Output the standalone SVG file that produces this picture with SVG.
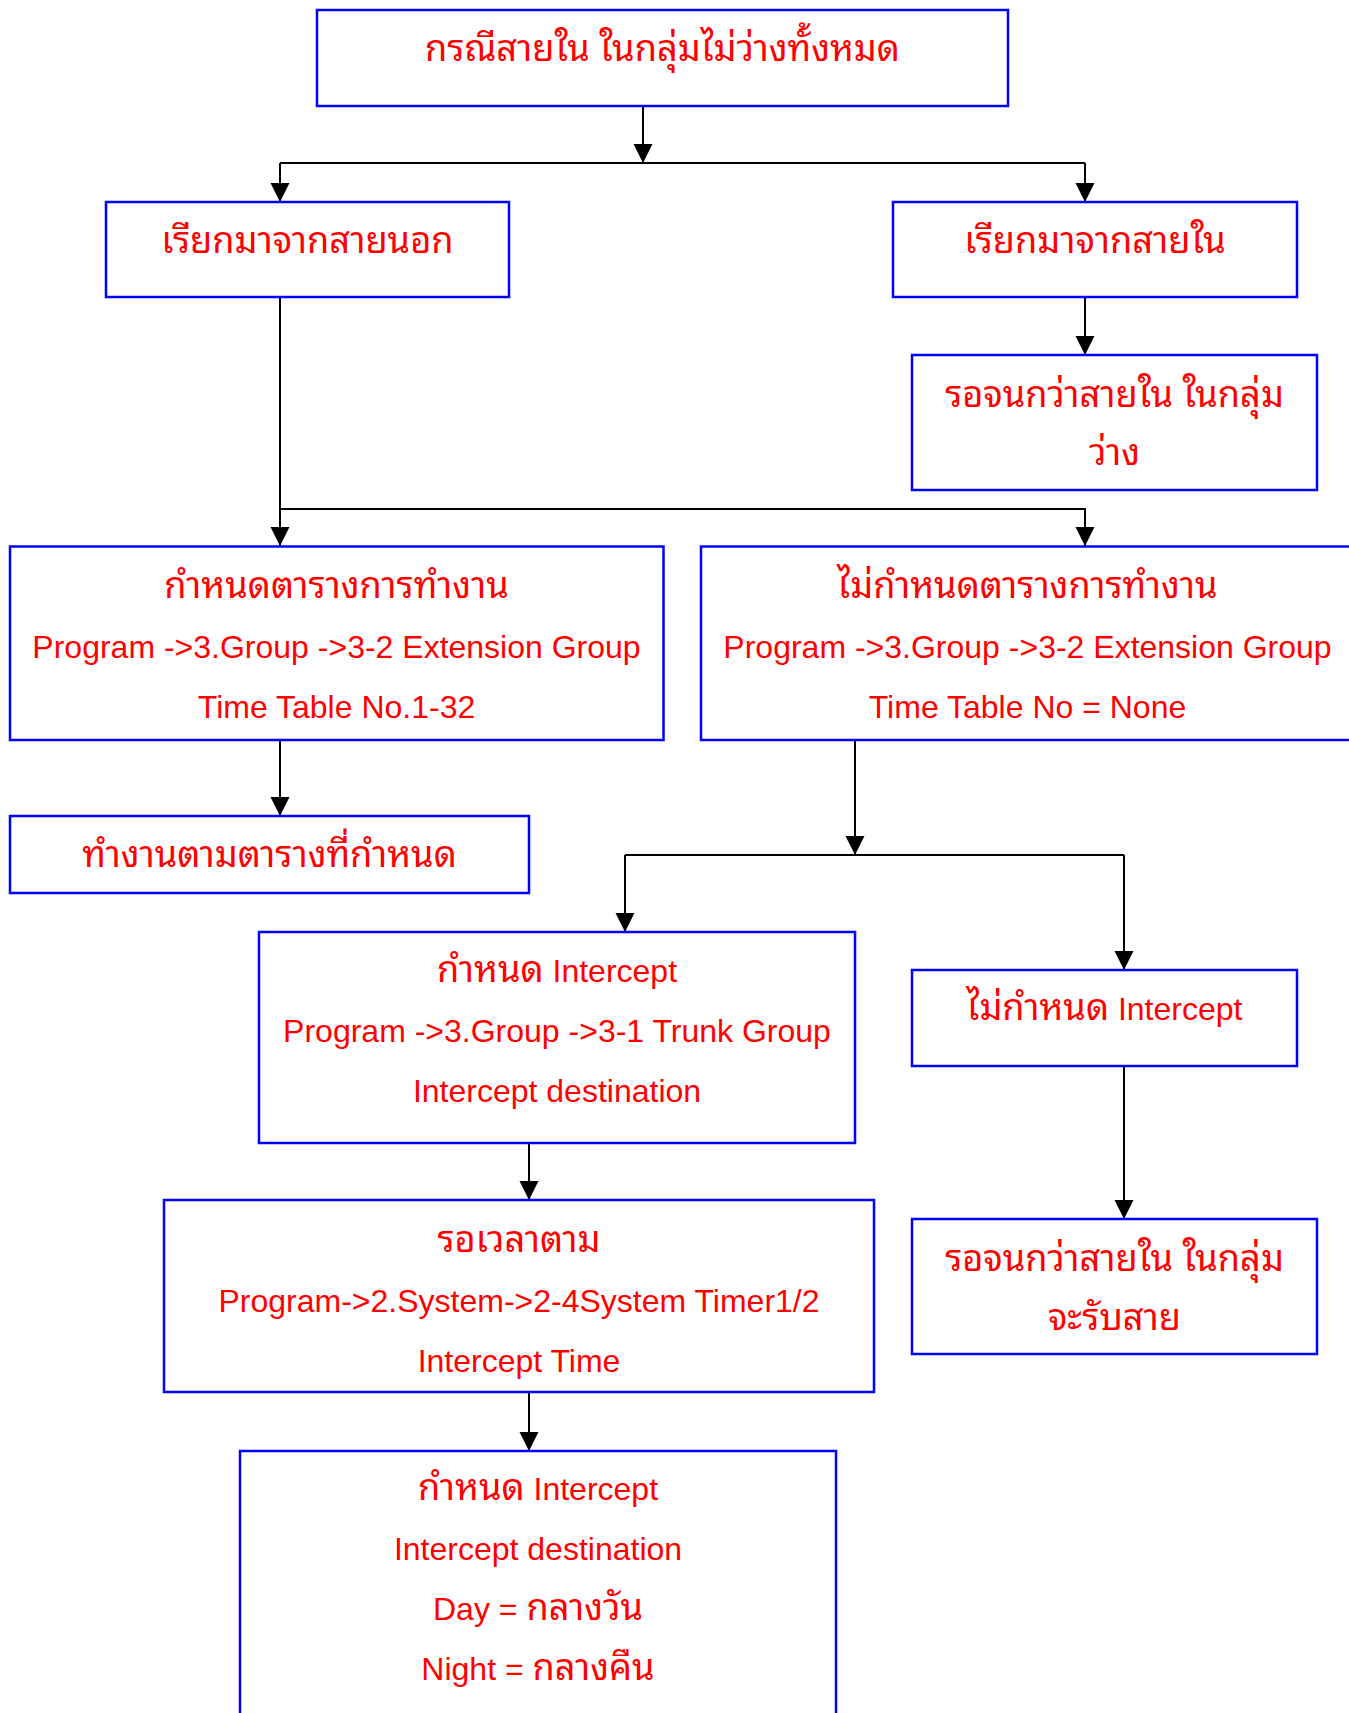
<svg xmlns="http://www.w3.org/2000/svg" width="1349" height="1713" viewBox="0 0 1349 1713">
<defs>
<style>
.box{fill:#fff;stroke:#0000ff;stroke-width:2.5}
.t{font-family:"Liberation Sans","Noto Sans Thai Looped","Noto Sans Thai","Noto Sans",sans-serif;font-size:32px;fill:#ff0000;text-anchor:middle}
.th{font-family:"Noto Sans Thai Looped","Noto Sans Thai","Noto Sans",sans-serif;font-size:36.2px;font-weight:normal}
.c{fill:none;stroke:#000;stroke-width:2}
</style>
<marker id="ah" viewBox="0 0 20 19" refX="20" refY="10" markerWidth="19" markerHeight="20" markerUnits="userSpaceOnUse" orient="auto">
<path d="M0,0 L20,10 L0,20 z" fill="#000"/>
</marker>
</defs>
<rect width="1349" height="1713" fill="#fff"/>
<g id="connectors">
<path class="c" d="M643,106 V163" marker-end="url(#ah)"/>
<path class="c" d="M280,163 H1085"/>
<path class="c" d="M280,163 V202" marker-end="url(#ah)"/>
<path class="c" d="M1085,163 V202" marker-end="url(#ah)"/>
<path class="c" d="M1085,297 V355" marker-end="url(#ah)"/>
<path class="c" d="M280,297 V546" marker-end="url(#ah)"/>
<path class="c" d="M280,509 H1085 V546" marker-end="url(#ah)"/>
<path class="c" d="M280,740 V816" marker-end="url(#ah)"/>
<path class="c" d="M855,740 V855" marker-end="url(#ah)"/>
<path class="c" d="M625,855 H1124"/>
<path class="c" d="M625,855 V932" marker-end="url(#ah)"/>
<path class="c" d="M1124,855 V970" marker-end="url(#ah)"/>
<path class="c" d="M529,1143 V1200" marker-end="url(#ah)"/>
<path class="c" d="M1124,1066 V1219" marker-end="url(#ah)"/>
<path class="c" d="M529,1392 V1451" marker-end="url(#ah)"/>
</g>
<g id="n1"><rect class="box" x="317" y="10" width="691" height="96"/><text class="t th" x="662.5" y="61">กรณีสายใน ในกลุ่มไม่ว่างทั้งหมด</text></g>
<g id="n2"><rect class="box" x="106" y="202" width="403" height="95"/><text class="t th" x="307.5" y="253">เรียกมาจากสายนอก</text></g>
<g id="n3"><rect class="box" x="893" y="202" width="404" height="95"/><text class="t th" x="1095" y="253">เรียกมาจากสายใน</text></g>
<g id="n4"><rect class="box" x="912" y="355" width="405" height="135"/><text class="t th" x="1114.5" y="407">รอจนกว่าสายใน ในกลุ่ม</text><text class="t th" x="1114.5" y="465">ว่าง</text></g>
<g id="n5"><rect class="box" x="10" y="546.5" width="653.5" height="193.5"/><text class="t th" x="336.5" y="598">กำหนดตารางการทำงาน</text><text class="t" x="336.5" y="658">Program -&gt;3.Group -&gt;3-2 Extension Group</text><text class="t" x="336.5" y="718">Time Table No.1-32</text></g>
<g id="n6"><rect class="box" x="701" y="546.5" width="652" height="193.5"/><text class="t th" x="1027.5" y="598">ไม่กำหนดตารางการทำงาน</text><text class="t" x="1027.5" y="658">Program -&gt;3.Group -&gt;3-2 Extension Group</text><text class="t" x="1027.5" y="718">Time Table No = None</text></g>
<g id="n7"><rect class="box" x="10" y="816" width="519" height="77"/><text class="t th" x="269.5" y="867">ทำงานตามตารางที่กำหนด</text></g>
<g id="n8"><rect class="box" x="259" y="932" width="596" height="211"/><text class="t" x="557" y="982"><tspan class="th">กำหนด</tspan> Intercept</text><text class="t" x="557" y="1042">Program -&gt;3.Group -&gt;3-1 Trunk Group</text><text class="t" x="557" y="1102">Intercept destination</text></g>
<g id="n9"><rect class="box" x="912" y="970" width="385" height="96"/><text class="t" x="1104.5" y="1020"><tspan class="th">ไม่กำหนด</tspan> Intercept</text></g>
<g id="n10"><rect class="box" x="912" y="1219" width="405" height="135"/><text class="t th" x="1114.5" y="1271">รอจนกว่าสายใน ในกลุ่ม</text><text class="t th" x="1114.5" y="1330">จะรับสาย</text></g>
<g id="n11"><rect class="box" x="164" y="1200" width="710" height="192"/><text class="t th" x="519" y="1252">รอเวลาตาม</text><text class="t" x="519" y="1312">Program-&gt;2.System-&gt;2-4System Timer1/2</text><text class="t" x="519" y="1372">Intercept Time</text></g>
<g id="n12"><rect class="box" x="240" y="1451" width="596" height="290"/><text class="t" x="538" y="1500"><tspan class="th">กำหนด</tspan> Intercept</text><text class="t" x="538" y="1560">Intercept destination</text><text class="t" x="538" y="1620">Day = <tspan class="th">กลางวัน</tspan></text><text class="t" x="538" y="1680">Night = <tspan class="th">กลางคืน</tspan></text></g>
</svg>
